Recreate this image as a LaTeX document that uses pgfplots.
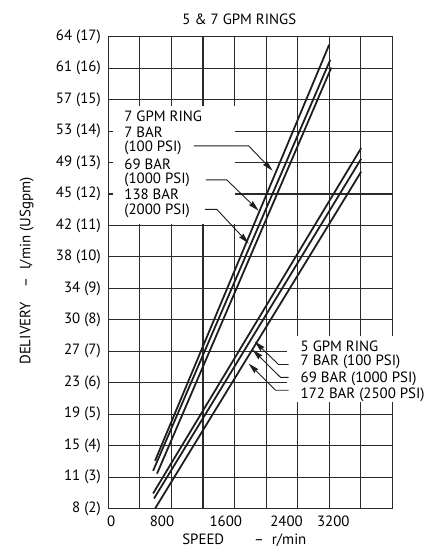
\documentclass[border=0pt]{standalone}
\usepackage{fontspec}
\setmainfont{PT Sans}
\usepackage{pgfplots}
\pgfplotsset{compat=1.18}
\usetikzlibrary{arrows.meta}
\definecolor{ink}{HTML}{1E1E1E}
\definecolor{gridc}{HTML}{2A2A2A}
\begin{document}
\begin{tikzpicture}[font=\fontsize{15}{17}\selectfont]
\begin{axis}[
  set layers,
  at={(0pt,0pt)}, anchor=south west,
  scale only axis, width=286pt, height=475pt,
  xmin=0, xmax=3600, ymin=2, ymax=17,
  clip=false,
  axis line style={gridc, line width=1.1pt},
  xtick={38,681,1489,2259,2852},
  xticklabels={0,800,1600,2400,3200},
  xtick style={draw=none},
  minor xtick={0,400,...,3600},
  minor tick length=0pt,
  xminorgrids=true, xmajorgrids=false,
  ytick={2,...,17},
  yticklabels={8 (2),11 (3),15 (4),19 (5),23 (6),27 (7),30 (8),34 (9),38 (10),42 (11),45 (12),49 (13),53 (14),57 (15),61 (16),64 (17)},
  ymajorgrids=true,
  ytick pos=left,
  major tick length=5pt,
  ytick style={gridc, line width=1.1pt},
  major grid style={gridc, line width=1.1pt},
  minor grid style={gridc, line width=1.1pt},
  ticklabel style={font=\fontsize{15}{17}\selectfont},
  yticklabel style={xshift=-4pt},
  xticklabel style={yshift=-4pt},
]
\begin{pgfonlayer}{pre main}
\fill[white] (axis cs:60,14.79) rectangle (axis cs:1612,11.04);
\fill[white] (axis cs:2259,7.50) rectangle (axis cs:4051,5.38);
\end{pgfonlayer}
% 7 GPM ring
\addplot[ink, line width=1.8pt] coordinates {(593,3.52) (2800,16.75)};
\addplot[ink, line width=1.8pt] coordinates {(568,3.20) (2814,16.27)};
\addplot[ink, line width=1.8pt] coordinates {(618,3.11) (2827,16.02)};
% 5 GPM ring
\addplot[ink, line width=1.8pt] coordinates {(568,2.48) (3205,13.46)};
\addplot[ink, line width=1.8pt] coordinates {(580,2.32) (3205,13.12)};
\addplot[ink, line width=1.8pt] coordinates {(593,2.00) (3205,12.71)};
% annotations 7 GPM
\node[anchor=west, inner sep=0pt] at (axis cs:202,14.47) {7 GPM RING};
\node[anchor=west, inner sep=0pt] at (axis cs:202,13.97) {7 BAR};
\node[anchor=west, inner sep=0pt] at (axis cs:202,13.46) {(100 PSI)};
\node[anchor=west, inner sep=0pt] at (axis cs:202,12.96) {69 BAR};
\node[anchor=west, inner sep=0pt] at (axis cs:202,12.45) {(1000 PSI)};
\node[anchor=west, inner sep=0pt] at (axis cs:202,11.98) {138 BAR};
\node[anchor=west, inner sep=0pt] at (axis cs:202,11.47) {(2000 PSI)};
\draw[ink, line width=0.9pt, -{Stealth[length=11pt,width=5.5pt,inset=1pt]}] (axis cs:1085,13.53) -- (axis cs:1779,13.53) -- (axis cs:2082,12.74);
\draw[ink, line width=0.9pt, -{Stealth[length=11pt,width=5.5pt,inset=1pt]}] (axis cs:1237,12.45) -- (axis cs:1502,12.45) -- (axis cs:1906,11.47);
\draw[ink, line width=0.9pt, -{Stealth[length=11pt,width=5.5pt,inset=1pt]}] (axis cs:1224,11.51) -- (axis cs:1376,11.51) -- (axis cs:1779,10.43);
% annotations 5 GPM
\node[anchor=west, inner sep=0pt] at (axis cs:2436,7.15) {5 GPM RING};
\node[anchor=west, inner sep=0pt] at (axis cs:2436,6.67) {7 BAR (100 PSI)};
\node[anchor=west, inner sep=0pt] at (axis cs:2436,6.14) {69 BAR (1000 PSI)};
\node[anchor=west, inner sep=0pt] at (axis cs:2436,5.63) {172 BAR (2500 PSI)};
\draw[ink, line width=0.9pt, -{Stealth[length=11pt,width=5.5pt,inset=1pt]}] (axis cs:2284,6.58) -- (axis cs:2158,6.58) -- (axis cs:1855,7.31);
\draw[ink, line width=0.9pt, -{Stealth[length=11pt,width=5.5pt,inset=1pt]}] (axis cs:2284,6.17) -- (axis cs:2183,6.17) -- (axis cs:1830,7.05);
\draw[ink, line width=0.9pt, -{Stealth[length=11pt,width=5.5pt,inset=1pt]}] (axis cs:2284,5.76) -- (axis cs:2120,5.76) -- (axis cs:1779,6.61);
\end{axis}
\node at (132pt,493pt) {5 \& 7 GPM RINGS};
\node[rotate=90] at (-82pt,239pt) {DELIVERY\quad -- \ l/min (USgpm)};
\node at (137pt,-32pt) {SPEED\qquad -- \ r/min};
\path (-109pt,-38pt) rectangle (321pt,512pt);
\end{tikzpicture}
\end{document}
